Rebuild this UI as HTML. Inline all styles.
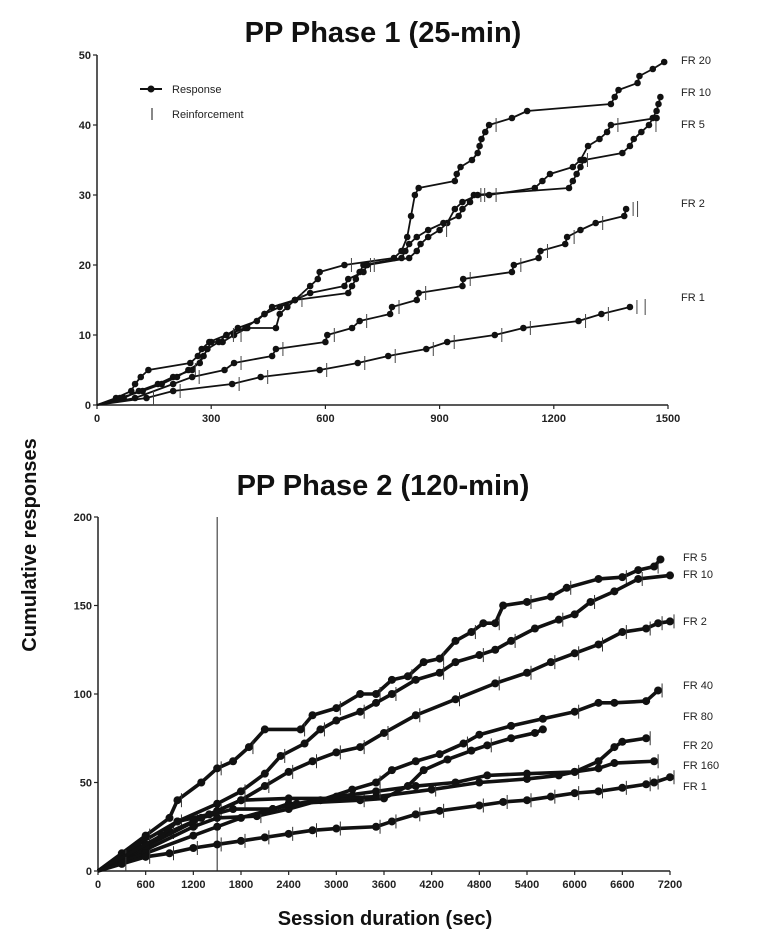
<!DOCTYPE html>
<html><head><meta charset="utf-8"><style>
html,body{margin:0;padding:0;background:#fff;}
svg{display:block;font-family:"Liberation Sans",Arial,sans-serif;}
.tk{font-size:11px;font-weight:bold;fill:#222;}
.lb{font-size:11px;fill:#222;}
</style></head><body>
<svg id="chart" width="761" height="946" viewBox="0 0 761 946" xmlns="http://www.w3.org/2000/svg">
<text x="383" y="42" text-anchor="middle" font-size="29" font-weight="bold" fill="#111">PP Phase 1 (25-min)</text>
<text x="383" y="495" text-anchor="middle" font-size="29" font-weight="bold" fill="#111">PP Phase 2 (120-min)</text>
<text transform="translate(36,545) rotate(-90)" text-anchor="middle" font-size="20" font-weight="bold" fill="#111">Cumulative responses</text>
<text x="385" y="925" text-anchor="middle" font-size="20" font-weight="bold" fill="#111">Session duration (sec)</text>
<g>
<line x1="140" y1="89" x2="162" y2="89" stroke="#111" stroke-width="2"/>
<circle cx="151" cy="89" r="3.5" fill="#111"/>
<text x="172" y="93" class="lb" font-size="12">Response</text>
<line x1="152" y1="108" x2="152" y2="120" stroke="#111" stroke-width="1"/>
<text x="172" y="118" class="lb" font-size="12">Reinforcement</text>
</g>
<g id="g1"></g><g id="g2"></g>
</svg>
<script>
// ---- Phase 1 data (time sec, cumulative responses) ----
const p1Names = ["FR 20","FR 10","FR 5","FR 2","FR 1"];
const p1Ratios = [20,10,5,2,1];
const p1FR20 = [[0,0],[50,1],[90,2],[100,3],[115,4],[135,5],[245,6],[265,7],[275,8],[295,9],[340,10],[370,11],[420,12],[440,13],[480,14],[520,15],[560,17],[580,18],[585,19],[650,20],[780,21],[800,22],[815,24],[825,27],[835,30],[845,31],[940,32],[945,33],[955,34],[985,35],[1000,36],[1005,37],[1010,38],[1020,39],[1030,40],[1090,41],[1130,42],[1350,43],[1360,44],[1370,45],[1420,46],[1425,47],[1460,48],[1490,49]];
const p1FR10 = [[0,0],[70,1],[110,2],[160,3],[200,4],[250,5],[280,7],[300,9],[330,9],[360,10],[395,11],[470,11],[480,13],[500,14],[520,15],[660,16],[670,17],[680,18],[690,19],[700,20],[800,21],[810,22],[820,23],[840,24],[870,25],[910,26],[950,27],[960,28],[980,29],[990,30],[1240,31],[1250,32],[1260,33],[1270,34],[1280,35],[1380,36],[1400,37],[1410,38],[1430,39],[1450,40],[1460,41],[1470,42],[1475,43],[1480,44]];
const p1FR5 = [[0,0],[60,1],[120,2],[170,3],[210,4],[240,5],[270,6],[290,8],[320,9],[340,10],[390,11],[440,13],[460,14],[520,15],[560,16],[650,17],[660,18],[700,19],[710,20],[820,21],[840,22],[850,23],[870,24],[900,25],[920,26],[940,28],[960,29],[1000,30],[1030,30],[1150,31],[1170,32],[1190,33],[1250,34],[1270,35],[1290,37],[1320,38],[1340,39],[1350,40],[1470,41]];
const p1FR2 = [[0,0],[100,1],[200,3],[250,4],[335,5],[360,6],[460,7],[470,8],[600,9],[605,10],[670,11],[690,12],[770,13],[775,14],[840,15],[845,16],[960,17],[962,18],[1090,19],[1095,20],[1160,21],[1165,22],[1230,23],[1235,24],[1270,25],[1310,26],[1385,27],[1390,28]];
const p1FR1 = [[0,0],[130,1],[200,2],[355,3],[430,4],[585,5],[685,6],[765,7],[865,8],[920,9],[1045,10],[1120,11],[1265,12],[1325,13],[1400,14]];
const p1Series = [p1FR20,p1FR10,p1FR5,p1FR2,p1FR1];
const p1EndTicks = [[1420,28],[1440,14]];
const p1XTicks = [0,300,600,900,1200,1500];
const p1YTicks = [0,10,20,30,40,50];
// ---- Phase 2 data ----
const p2Names = ["FR 5","FR 10","FR 2","FR 40","FR 80","FR 20","FR 160","FR 1"];
const p2FR5 = [[0,0],[300,10],[600,20],[900,30],[1000,40],[1300,50],[1500,58],[1700,62],[1900,70],[2100,80],[2550,80],[2700,88],[3000,92],[3300,100],[3500,100],[3700,108],[3900,110],[4100,118],[4300,120],[4500,130],[4700,135],[4850,140],[5000,140],[5100,150],[5400,152],[5700,155],[5900,160],[6300,165],[6600,166],[6800,170],[7000,172],[7080,176]];
const p2FR10 = [[0,0],[500,15],[1000,28],[1500,38],[1800,45],[2100,55],[2300,65],[2600,72],[2800,80],[3000,85],[3300,90],[3500,95],[3700,100],[4000,108],[4300,112],[4500,118],[4800,122],[5000,125],[5200,130],[5500,137],[5800,142],[6000,145],[6200,152],[6500,158],[6800,165],[7200,167]];
const p2FR2 = [[0,0],[300,8],[600,15],[900,22],[1200,28],[1500,34],[1800,40],[2100,48],[2400,56],[2700,62],[3000,67],[3300,70],[3600,78],[4000,88],[4500,97],[5000,106],[5400,112],[5700,118],[6000,123],[6300,128],[6600,135],[6900,137],[7050,140],[7200,141]];
const p2FR40 = [[0,0],[600,12],[1200,25],[1500,30],[2000,31],[2400,35],[2800,40],[3200,46],[3500,50],[3700,57],[4000,62],[4300,66],[4600,72],[4800,77],[5200,82],[5600,86],[6000,90],[6300,95],[6500,95],[6900,96],[7050,102]];
const p2FR80 = [[0,0],[600,14],[1300,30],[1700,35],[2200,35],[2400,38],[3300,40],[3600,41],[3900,48],[4100,57],[4400,63],[4700,68],[4900,71],[5200,75],[5500,78],[5600,80]];
const p2FR20 = [[0,0],[800,20],[1000,28],[1400,32],[1800,40],[2400,41],[3000,41],[3500,42],[4200,46],[4800,50],[5400,52],[5800,54],[6000,56],[6300,62],[6500,70],[6600,73],[6900,75]];
const p2FR160 = [[0,0],[600,10],[1200,20],[1500,25],[1800,30],[2200,35],[2500,38],[3000,42],[3500,45],[4000,48],[4500,50],[4900,54],[5400,55],[6000,56],[6300,58],[6500,61],[7000,62]];
const p2FR1 = [[0,0],[300,4],[600,8],[900,10],[1200,13],[1500,15],[1800,17],[2100,19],[2400,21],[2700,23],[3000,24],[3500,25],[3700,28],[4000,32],[4300,34],[4800,37],[5100,39],[5400,40],[5700,42],[6000,44],[6300,45],[6600,47],[6900,49],[7000,50],[7200,53]];
const p2Series = [p2FR5,p2FR10,p2FR2,p2FR40,p2FR80,p2FR20,p2FR160,p2FR1];
const p2TickEvery = [2,2,1,4,6,4,8,1];
const p2XTicks = [0,600,1200,1800,2400,3000,3600,4200,4800,5400,6000,6600,7200];
const p2YTicks = [0,50,100,150,200];
const p2Marker = 1500;

const NS="http://www.w3.org/2000/svg";
function mk(tag,attrs,parent){const e=document.createElementNS(NS,tag);for(const k in attrs)e.setAttribute(k,attrs[k]);parent.appendChild(e);return e;}

function axes(g,X,Y,xt,yt,x0,x1,y0,y1){
  const ax=mk('g',{},g);
  
  
  mk('line',{x1:x0,y1:y0,x2:x0,y2:y1,stroke:'#222','stroke-width':1.5},ax);
  mk('line',{x1:x0,y1:y0,x2:x1,y2:y0,stroke:'#222','stroke-width':1.5},ax);
  xt.forEach(v=>{mk('line',{x1:X(v),y1:y0,x2:X(v),y2:y0+4,stroke:'#222','stroke-width':1.2},ax);
    const t=mk('text',{x:X(v),y:y0+17,'text-anchor':'middle',class:'tk'},ax);t.textContent=v;
    
    });
  yt.forEach(v=>{mk('line',{x1:x0-4,y1:Y(v),x2:x0,y2:Y(v),stroke:'#222','stroke-width':1.2},ax);
    const t=mk('text',{x:x0-6,y:Y(v)+4,'text-anchor':'end',class:'tk'},ax);t.textContent=v;
    
    });
}
function series(g,pts,X,Y,r,tickEvery,name,sw){
  const s=mk('g',{},g);
  
  
  mk('polyline',{points:pts.map(p=>X(p[0])+','+Y(p[1])).join(' '),fill:'none',stroke:'#111','stroke-width':sw,'stroke-linejoin':'round'},s);
  pts.forEach((p,i)=>{ if(i>0) mk('circle',{cx:X(p[0]),cy:Y(p[1]),r:r,fill:'#111'},s);
    if(i>0 && tickEvery && i%tickEvery===0) mk('line',{x1:X(p[0])+4,y1:Y(p[1])-7,x2:X(p[0])+4,y2:Y(p[1])+7,stroke:'#333','stroke-width':1},s);});
}
// Phase 1
(function(){
  const g=document.getElementById('g1');
  const x0=97,x1=668,y0=405,y1=55;
  const X=v=>x0+v/1500*(x1-x0), Y=v=>y0-v/50*(y0-y1);
  axes(g,X,Y,p1XTicks,p1YTicks,x0,x1,y0,y1);
  p1Series.forEach((s,i)=>{
    series(g,s,X,Y,3.3,0,p1Names[i],1.8);
    s.forEach(p=>{ if(p[1]>0 && p[1]%p1Ratios[i]===0){
      const l=mk('line',{x1:X(p[0])+7,y1:Y(p[1])-7,x2:X(p[0])+7,y2:Y(p[1])+7,stroke:'#444','stroke-width':1},g);
      
      }});
  });
  p1EndTicks.forEach(p=>{const l=mk('line',{x1:X(p[0]),y1:Y(p[1])-8,x2:X(p[0]),y2:Y(p[1])+8,stroke:'#444','stroke-width':1},g);
    
    });
  const labY=[60,92,124,203,297];
  p1Names.forEach((n,i)=>{const t=mk('text',{x:681,y:labY[i]+4,class:'lb'},g);t.textContent=n;
    
    });
})();
// Phase 2
(function(){
  const g=document.getElementById('g2');
  const x0=98,x1=670,y0=871,y1=517;
  const X=v=>x0+v/7200*(x1-x0), Y=v=>y0-v/200*(y0-y1);
  axes(g,X,Y,p2XTicks,p2YTicks,x0,x1,y0,y1);
  const m=mk('line',{x1:X(p2Marker),y1:Y(200),x2:X(p2Marker),y2:y0,stroke:'#222','stroke-width':1},g);
  
  
  p2Series.forEach((s,i)=>series(g,s,X,Y,4,p2TickEvery[i],p2Names[i],3.6));
  const labY=[557,574,621,685,716,745,765,786];
  p2Names.forEach((n,i)=>{const t=mk('text',{x:683,y:labY[i]+4,class:'lb'},g);t.textContent=n;
    
    });
})();
</script>
</body></html>
